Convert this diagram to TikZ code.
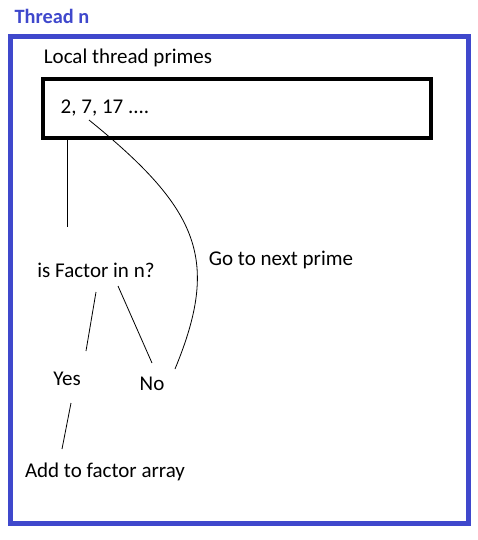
\documentclass[tikz,border=0pt]{standalone}
\usepackage{fontspec}
\setmainfont{Carlito}
\usetikzlibrary{calc}
\definecolor{threadBlue}{HTML}{3F48CC}

\tikzset{
    label text/.style={font=\fontsize{15.75}{18}\selectfont, inner sep=0pt},
    link/.style={black, line width=0.6pt}
}

\begin{document}
\begin{tikzpicture}[x=0.75pt, y=-0.75pt]
    \useasboundingbox (0,0) rectangle (478,540);

    % Thread frame
    \node[label text, font=\fontsize{15.25}{18}\selectfont\bfseries, text=threadBlue] (title) at (52,16) {Thread n};
    \draw[threadBlue, line width=3.75pt] (10.5,36) rectangle (468,523);

    % Prime list
    \node[label text] (local) at (128,58) {Local thread primes};
    \node[draw, line width=2.4pt, minimum width=388*0.75pt, minimum height=59*0.75pt, inner sep=0pt] (box) at (237,108.5) {};
    \node[label text] (primes) at (105,108.5) {2, 7, 17 ....};

    % Steps
    \node[label text] (question) at (96,270) {is Factor in n?};
    \node[label text] (next) at (281,260) {Go to next prime};
    \node[label text] (yes) at (67,379) {Yes};
    \node[label text] (no) at (152,384) {No};
    \node[label text] (add) at (105,472) {Add to factor array};

    % Links
    \draw[link] ([shift={(-170,0)}]box.south) -- ([shift={(-29,-43)}]question.center);
    \draw[link] ([shift={(0,22)}]question.center) -- ([shift={(19,-28)}]yes.center);
    \draw[link] ([shift={(22,16)}]question.center) -- ([shift={(0,-21)}]no.center);
    \draw[link] ([shift={(4,24)}]yes.center) -- ([shift={(-43,-23)}]add.center);
    \draw[link] ([shift={(-16,11.5)}]primes.center) .. controls (200,210) and (220,260) .. ([shift={(23,-15)}]no.center);
\end{tikzpicture}
\end{document}
